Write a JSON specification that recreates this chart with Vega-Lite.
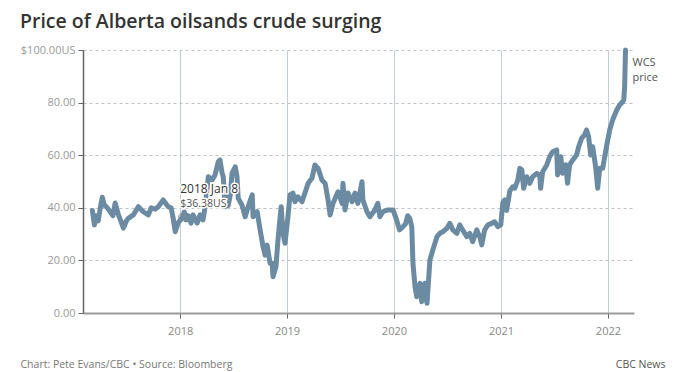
{
  "$schema": "https://vega.github.io/schema/vega-lite/v6.json",
  "width": 551,
  "height": 263,
  "autosize": "none",
  "padding": {"left": 83, "top": 50, "right": 66, "bottom": 59},
  "background": "white",
  "config": {"view": {"stroke": null}, "font": "Open Sans"},
  "title": {"text": "Price of Alberta oilsands crude surging", "anchor": "start", "frame": "group", "dx": -63, "offset": 12, "fontSize": 19.5, "fontWeight": 600, "color": "#333333", "font": "Open Sans"},
  "datasets": {
    "prices": [
      {"date":"2017-03-07","price":39},{"date":"2017-03-14","price":33.5},{"date":"2017-03-20","price":37},{"date":"2017-03-27","price":35},
      {"date":"2017-04-03","price":40},{"date":"2017-04-10","price":44},{"date":"2017-04-17","price":41},{"date":"2017-04-24","price":40.4},
      {"date":"2017-05-07","price":38.5},{"date":"2017-05-16","price":37},{"date":"2017-05-24","price":41.8},{"date":"2017-06-04","price":37.3},
      {"date":"2017-06-12","price":35},{"date":"2017-06-21","price":32.3},{"date":"2017-07-01","price":35},{"date":"2017-07-08","price":36},
      {"date":"2017-07-25","price":37.3},{"date":"2017-08-11","price":40.4},{"date":"2017-08-28","price":38.5},{"date":"2017-09-14","price":37.3},
      {"date":"2017-09-24","price":40},{"date":"2017-10-08","price":39.5},{"date":"2017-10-18","price":40.4},{"date":"2017-11-04","price":43},
      {"date":"2017-11-21","price":40.4},{"date":"2017-12-01","price":40},{"date":"2017-12-08","price":36},{"date":"2017-12-15","price":30.9},
      {"date":"2017-12-25","price":34.2},{"date":"2018-01-08","price":36.38},{"date":"2018-01-15","price":38.5},{"date":"2018-01-21","price":35.4},
      {"date":"2018-01-28","price":37},{"date":"2018-02-07","price":34.2},{"date":"2018-02-14","price":37.3},{"date":"2018-02-28","price":34.2},
      {"date":"2018-03-10","price":37.3},{"date":"2018-03-20","price":35.4},{"date":"2018-03-27","price":40.4},{"date":"2018-04-07","price":51.8},
      {"date":"2018-04-20","price":50.6},{"date":"2018-04-30","price":52.5},{"date":"2018-05-11","price":57.5},{"date":"2018-05-17","price":58.2},
      {"date":"2018-05-24","price":53.2},{"date":"2018-05-28","price":51.8},{"date":"2018-06-04","price":40.4},{"date":"2018-06-10","price":44.9},
      {"date":"2018-06-14","price":40.9},{"date":"2018-06-21","price":44.9},{"date":"2018-06-27","price":53.2},{"date":"2018-07-08","price":55.6},
      {"date":"2018-07-14","price":51.8},{"date":"2018-07-18","price":43.7},{"date":"2018-07-31","price":41},{"date":"2018-08-11","price":36.6},
      {"date":"2018-08-21","price":40.4},{"date":"2018-09-04","price":44.9},{"date":"2018-09-07","price":36.6},{"date":"2018-09-21","price":38.5},
      {"date":"2018-10-01","price":31.6},{"date":"2018-10-11","price":25.2},{"date":"2018-10-18","price":22},{"date":"2018-10-25","price":25.8},
      {"date":"2018-11-04","price":18.9},{"date":"2018-11-11","price":18.9},{"date":"2018-11-14","price":13.8},{"date":"2018-11-24","price":17.6},
      {"date":"2018-12-01","price":27.8},{"date":"2018-12-07","price":35},{"date":"2018-12-12","price":40.4},{"date":"2018-12-18","price":30.3},
      {"date":"2018-12-25","price":26.5},{"date":"2019-01-04","price":36.6},{"date":"2019-01-11","price":44.9},{"date":"2019-01-21","price":45.6},
      {"date":"2019-01-28","price":42.3},{"date":"2019-02-07","price":44.2},{"date":"2019-02-21","price":42.3},{"date":"2019-03-03","price":45.6},
      {"date":"2019-03-14","price":49.3},{"date":"2019-03-27","price":51.2},{"date":"2019-04-06","price":56.3},{"date":"2019-04-17","price":55},
      {"date":"2019-04-30","price":50.6},{"date":"2019-05-11","price":49.3},{"date":"2019-05-21","price":43},{"date":"2019-05-28","price":37.3},
      {"date":"2019-06-07","price":41.7},{"date":"2019-06-24","price":46.1},{"date":"2019-07-08","price":41.7},{"date":"2019-07-11","price":49.3},
      {"date":"2019-07-18","price":39.2},{"date":"2019-07-28","price":45.6},{"date":"2019-08-11","price":42.3},{"date":"2019-08-21","price":45.6},
      {"date":"2019-08-31","price":41.7},{"date":"2019-09-14","price":49.9},{"date":"2019-09-17","price":43},{"date":"2019-10-01","price":38.5},
      {"date":"2019-10-11","price":36.6},{"date":"2019-10-28","price":39.2},{"date":"2019-11-07","price":41.7},{"date":"2019-11-14","price":36.6},
      {"date":"2019-11-24","price":38.5},{"date":"2019-12-11","price":39.2},{"date":"2019-12-29","price":39.2},{"date":"2020-01-10","price":35.4},
      {"date":"2020-01-20","price":31.6},{"date":"2020-02-01","price":32.8},{"date":"2020-02-10","price":34},{"date":"2020-02-17","price":37},
      {"date":"2020-02-24","price":36},{"date":"2020-03-02","price":32.8},{"date":"2020-03-06","price":18.9},{"date":"2020-03-13","price":10},
      {"date":"2020-03-19","price":6.2},{"date":"2020-03-30","price":11.3},{"date":"2020-04-05","price":4.3},{"date":"2020-04-16","price":11.3},
      {"date":"2020-04-23","price":3.7},{"date":"2020-04-26","price":8.7},{"date":"2020-05-03","price":20.2},{"date":"2020-05-13","price":24},
      {"date":"2020-05-27","price":29},{"date":"2020-06-06","price":30.3},{"date":"2020-06-16","price":30.9},{"date":"2020-06-30","price":32.2},
      {"date":"2020-07-10","price":34.1},{"date":"2020-07-20","price":31.6},{"date":"2020-08-03","price":30.3},{"date":"2020-08-13","price":33.5},
      {"date":"2020-08-23","price":31.6},{"date":"2020-09-06","price":29},{"date":"2020-09-16","price":30.3},{"date":"2020-09-26","price":27.1},
      {"date":"2020-10-10","price":31.6},{"date":"2020-10-20","price":29},{"date":"2020-10-27","price":25.9},{"date":"2020-11-06","price":31.6},
      {"date":"2020-11-17","price":33.5},{"date":"2020-11-30","price":34.1},{"date":"2020-12-10","price":34.7},{"date":"2020-12-21","price":32.8},
      {"date":"2020-12-31","price":33.5},{"date":"2021-01-07","price":42},{"date":"2021-01-14","price":43},{"date":"2021-01-20","price":39},
      {"date":"2021-01-31","price":46.5},{"date":"2021-02-10","price":48},{"date":"2021-02-17","price":47.5},{"date":"2021-02-27","price":50.5},
      {"date":"2021-03-06","price":55},{"date":"2021-03-13","price":54.4},{"date":"2021-03-19","price":47.4},{"date":"2021-03-30","price":51.8},
      {"date":"2021-04-09","price":49.3},{"date":"2021-04-19","price":51.8},{"date":"2021-05-03","price":53.1},{"date":"2021-05-13","price":52.5},
      {"date":"2021-05-16","price":47.4},{"date":"2021-05-23","price":53.7},{"date":"2021-06-06","price":56.3},{"date":"2021-06-16","price":59.4},
      {"date":"2021-06-26","price":61.3},{"date":"2021-07-10","price":62},{"date":"2021-07-13","price":52.5},{"date":"2021-07-24","price":59.4},
      {"date":"2021-07-30","price":53.1},{"date":"2021-08-10","price":56.3},{"date":"2021-08-16","price":49.3},{"date":"2021-08-23","price":56.3},
      {"date":"2021-09-03","price":58.2},{"date":"2021-09-16","price":60.1},{"date":"2021-09-23","price":63.2},{"date":"2021-10-03","price":66.4},
      {"date":"2021-10-13","price":67.7},{"date":"2021-10-20","price":69.6},{"date":"2021-10-27","price":67},{"date":"2021-11-03","price":60.1},
      {"date":"2021-11-10","price":63.2},{"date":"2021-11-20","price":55.6},{"date":"2021-11-27","price":47.4},{"date":"2021-12-04","price":55},
      {"date":"2021-12-14","price":55},{"date":"2021-12-27","price":63.2},{"date":"2022-01-07","price":69.6},{"date":"2022-01-17","price":73.4},
      {"date":"2022-01-31","price":77.2},{"date":"2022-02-10","price":79.1},{"date":"2022-02-20","price":80.3},{"date":"2022-02-24","price":81},
      {"date":"2022-02-27","price":86},{"date":"2022-03-02","price":100}
    ],
    "notes": [
      {"date":"2018-01-08","price":36.38,"head":"2018 Jan 8","sub":"$36.38US"}
    ],
    "series": [
      {"date":"2022-03-02","price":100,"label":"WCS price"}
    ]
  },
  "layer": [
    {
      "data": {"name": "prices"},
      "mark": {"type": "line", "strokeWidth": 5, "color": "#6b8ba3", "strokeJoin": "round", "strokeCap": "round"},
      "encoding": {
        "x": {
          "field": "date", "type": "temporal",
          "scale": {"domain": [{"year": 2017, "month": 2, "date": 3}, {"year": 2022, "month": 3, "date": 31}]},
          "axis": {
            "tickCount": {"interval": "year", "step": 1}, "format": "%Y",
            "grid": true, "gridColor": "#c3cdd6", "gridWidth": 1,
            "domainColor": "#999999", "domainWidth": 2,
            "tickColor": "#666666", "tickSize": 5,
            "labelColor": "#888888", "labelFontSize": 11, "labelPadding": 7, "labelFont": "Open Sans",
            "title": "Chart: Pete Evans/CBC • Source: Bloomberg",
            "titleX": -63, "titleY": 54, "titleAlign": "left", "titleAnchor": "start", "titleBaseline": "alphabetic",
            "titleFontSize": 10.5, "titleFontWeight": "normal", "titleColor": "#777777", "titleFont": "Open Sans"
          }
        },
        "y": {
          "field": "price", "type": "quantitative",
          "scale": {"domain": [0, 100], "nice": false},
          "axis": {
            "values": [0, 20, 40, 60, 80, 100],
            "labelExpr": "datum.value == 100 ? '$100.00US' : format(datum.value, '.2f')",
            "grid": true, "gridColor": "#b8c3cd", "gridDash": [3, 3], "gridWidth": 1,
            "domainColor": "#666666", "domainWidth": 1.5,
            "tickColor": "#666666", "tickSize": 5,
            "labelColor": "#999999", "labelFontSize": 11, "labelPadding": 3, "labelFont": "Open Sans",
            "title": "CBC News", "titleAngle": 0, "titleX": 582, "titleY": 317, "titleAlign": "right", "titleBaseline": "alphabetic",
            "titleFontSize": 10.5, "titleFontWeight": "normal", "titleColor": "#555555", "titleFont": "Open Sans"
          }
        }
      }
    },
    {
      "data": {"name": "notes"},
      "mark": {"type": "point", "filled": false, "stroke": "#8a8a8a", "strokeWidth": 1, "size": 60, "opacity": 0.8},
      "encoding": {
        "x": {"field": "date", "type": "temporal"},
        "y": {"field": "price", "type": "quantitative"}
      }
    },
    {
      "data": {"name": "notes"},
      "mark": {"type": "text", "align": "left", "baseline": "alphabetic", "dx": -2, "dy": -24, "fontSize": 12, "color": "#333333", "stroke": "white", "strokeWidth": 3, "font": "Open Sans"},
      "encoding": {
        "x": {"field": "date", "type": "temporal"},
        "y": {"field": "price", "type": "quantitative"},
        "text": {"field": "head"}
      }
    },
    {
      "data": {"name": "notes"},
      "mark": {"type": "text", "align": "left", "baseline": "alphabetic", "dx": -2, "dy": -10, "fontSize": 10.5, "color": "#555555", "stroke": "white", "strokeWidth": 3, "font": "Open Sans"},
      "encoding": {
        "x": {"field": "date", "type": "temporal"},
        "y": {"field": "price", "type": "quantitative"},
        "text": {"field": "sub"}
      }
    },
    {
      "data": {"name": "notes"},
      "mark": {"type": "text", "align": "left", "baseline": "alphabetic", "dx": -2, "dy": -24, "fontSize": 12, "color": "#333333", "font": "Open Sans"},
      "encoding": {
        "x": {"field": "date", "type": "temporal"},
        "y": {"field": "price", "type": "quantitative"},
        "text": {"field": "head"}
      }
    },
    {
      "data": {"name": "notes"},
      "mark": {"type": "text", "align": "left", "baseline": "alphabetic", "dx": -2, "dy": -10, "fontSize": 10.5, "color": "#555555", "font": "Open Sans"},
      "encoding": {
        "x": {"field": "date", "type": "temporal"},
        "y": {"field": "price", "type": "quantitative"},
        "text": {"field": "sub"}
      }
    },
    {
      "data": {"name": "series"},
      "mark": {"type": "text", "align": "left", "baseline": "alphabetic", "dx": 7, "dy": 16, "fontSize": 11, "color": "#555555", "lineBreak": " ", "lineHeight": 15, "font": "Open Sans"},
      "encoding": {
        "x": {"field": "date", "type": "temporal"},
        "y": {"field": "price", "type": "quantitative"},
        "text": {"field": "label"}
      }
    }
  ]
}
